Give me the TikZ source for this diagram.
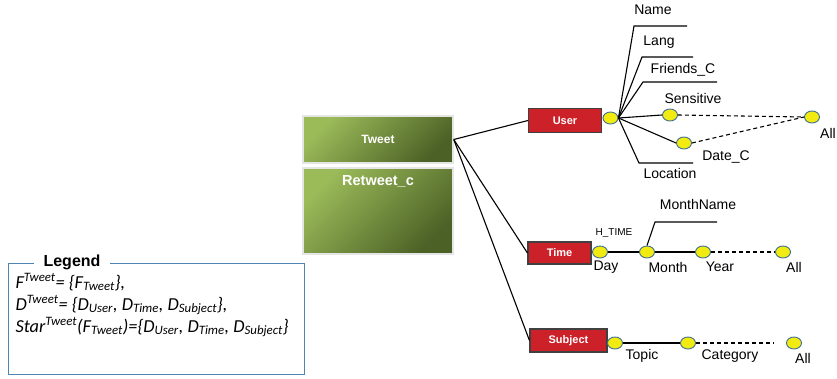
\documentclass[tikz,border=0pt]{standalone}
\usepackage{fontspec}
\setmainfont{Liberation Sans}
\newfontfamily\legfont{Carlito}
\usetikzlibrary{shapes,positioning}

\definecolor{dimred}{HTML}{CC2129}
\definecolor{lvlyellow}{HTML}{F2EB12}
\definecolor{lvlborder}{HTML}{3F6F8F}
\definecolor{lightgreen}{HTML}{9BBB59}
\definecolor{darkgreen}{HTML}{4C6126}
\definecolor{legblue}{HTML}{4F85B5}

\begin{document}
\begin{tikzpicture}[x=1pt,y=-1pt,line width=1.1pt]
    \tikzset{
        dim/.style      =   { rectangle
                            , draw=black!75
                            , fill=dimred
                            , text=white
                            , font=\bfseries\fontsize{11}{13}\selectfont
                            , inner sep=0pt
                            }
        , lvl/.style    =   { ellipse
                            , draw=lvlborder
                            , line width=0.9pt
                            , fill=lvlyellow
                            , minimum width=15pt
                            , minimum height=12pt
                            , inner sep=0pt
                            }
        , lbl/.style    =   { font=\fontsize{14}{16}\selectfont
                            , inner sep=0pt
                            }
        , fact/.style   =   { rectangle
                            , draw=gray!20
                            , line width=1.5pt
                            , top color=lightgreen
                            , bottom color=darkgreen
                            , shading angle=45
                            , text=white
                            , inner sep=0pt
                            , minimum width=150pt
                            }
        , roll/.style   =   { dashed
                            , dash pattern=on 4pt off 3pt
                            }
    }
    \useasboundingbox (0,0) rectangle (837,378);

    % fact table
    \node(tweet)[fact,minimum height=47pt,font=\bfseries\fontsize{12}{14}\selectfont] at (378,139.5) {Tweet};
    \node(retweet)[fact,minimum height=86pt] at (378,211) {};
    \node(retweetlbl)[text=white,font=\bfseries\fontsize{14.5}{16}\selectfont,inner sep=0pt,below=8pt of retweet.north] {Retweet\_c};

    % dimensions
    \node(user)[dim,minimum width=73pt,minimum height=24pt] at (565,120.5) {User};
    \node(time)[dim,minimum width=63pt,minimum height=22pt] at (559.5,253) {Time};
    \node(subject)[dim,minimum width=77pt,minimum height=23pt] at (568.5,340.5) {Subject};

    \draw (tweet.east) -- (user.west);
    \draw (tweet.east) -- (time.west);
    \draw (tweet.east) -- (subject.west);

    % user hierarchy
    \coordinate(nameA) at (634,26);
    \coordinate(nameB) at (687,26);
    \coordinate(langA) at (642,57);
    \coordinate(langB) at (693,57);
    \coordinate(friendsA) at (643,82);
    \coordinate(friendsB) at (717,82);
    \coordinate(locA) at (639,163);
    \coordinate(locB) at (693,163);
    \node(uhub)[lvl] at (610.5,118) {};
    \node(sens)[lvl] at (670,115) {};
    \node(datec)[lvl] at (684,143) {};
    \node(uall)[lvl] at (812,117) {};

    \draw (uhub.east) -- (nameA) -- (nameB);
    \draw (uhub.east) -- (langA) -- (langB);
    \draw (uhub.east) -- (friendsA) -- (friendsB);
    \draw (uhub.east) -- (locA) -- (locB);
    \draw (uhub.east) -- (sens.west);
    \draw (uhub.east) -- (datec.west);
    \draw[roll] (sens.east) -- (uall.west);
    \draw[roll] (datec.east) -- (uall.west);

    \node(name)[lbl] at (653,10) {Name};
    \node(lang)[lbl] at (659,42) {Lang};
    \node(friends)[lbl] at (683,70) {Friends\_C};
    \node(senslbl)[lbl] at (693,98) {Sensitive};
    \node(datelbl)[lbl] at (726,157) {Date\_C};
    \node(loc)[lbl] at (670,173) {Location};
    \node(uall lbl)[lbl] at (828,133) {All};

    % time hierarchy
    \node(day)[lvl] at (600,252) {};
    \node(month)[lvl] at (647,252) {};
    \node(year)[lvl] at (703,252) {};
    \node(tall)[lvl] at (783,252) {};
    \coordinate(mnameA) at (655,222);
    \coordinate(mnameB) at (717,222);

    \draw (day) -- (month);
    \draw (month) -- (year);
    \draw[roll] (year) -- (tall);
    \draw (month.north) -- (mnameA) -- (mnameB);

    \node(htime)[lbl,font=\fontsize{10}{12}\selectfont] at (614,233) {H\_TIME};
    \node(daylbl)[lbl] at (606,267) {Day};
    \node(monthlbl)[lbl] at (668,267) {Month};
    \node(yearlbl)[lbl] at (720,267) {Year};
    \node(tall lbl)[lbl] at (794,267) {All};
    \node(mname)[lbl] at (698,204) {MonthName};

    % subject hierarchy
    \node(topic)[lvl] at (615,343) {};
    \node(cat)[lvl] at (688,343) {};
    \node(sall)[lvl] at (794,343) {};

    \draw (topic) -- (cat);
    \draw[roll,shorten >=12pt] (cat) -- (sall);

    \node(topiclbl)[lbl] at (642,356) {Topic};
    \node(catlbl)[lbl] at (730,356) {Category};
    \node(sall lbl)[lbl] at (803,358) {All};

    % legend
    \node(legend)[draw=legblue,minimum width=296pt,minimum height=111pt,anchor=north west] at (8,263) {};
    \node(legtitle)[fill=white,inner xsep=10pt,inner ysep=0pt,font=\bfseries\fontsize{16}{18}\selectfont] at (72,262) {Legend};
    \node(legtext)[anchor=north west,align=left,inner sep=0pt,font=\legfont\itshape\fontsize{18.3}{22}\selectfont] at (15,273)
        {F\textsuperscript{Tweet}= \{F\textsubscript{Tweet}\},\\
         D\textsuperscript{Tweet}= \{D\textsubscript{User}, D\textsubscript{Time}, D\textsubscript{Subject}\},\\
         Star\textsuperscript{Tweet}(F\textsubscript{Tweet})=\{D\textsubscript{User}, D\textsubscript{Time}, D\textsubscript{Subject}\}};
\end{tikzpicture}
\end{document}
